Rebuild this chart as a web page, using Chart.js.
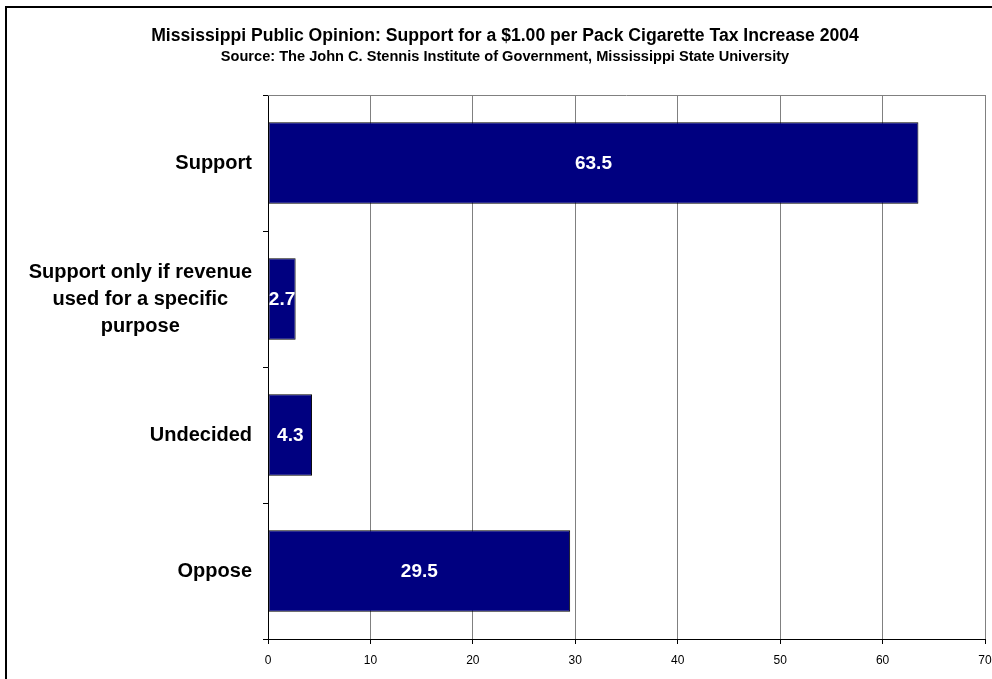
<!DOCTYPE html>
<html>
<head>
<meta charset="utf-8">
<script src="https://cdn.jsdelivr.net/npm/chart.js@4.4.0/dist/chart.umd.min.js"></script>
<style>
  html, body { margin: 0; padding: 0; background: #fff; }
  #wrap { width: 992px; height: 679px; position: relative; }
</style>
</head>
<body>
<div id="wrap"><canvas id="opinion-chart" width="992" height="679"></canvas></div>
<script>
const titleText = 'Mississippi Public Opinion: Support for a $1.00 per Pack Cigarette Tax Increase 2004';
const subtitleText = 'Source: The John C. Stennis Institute of Government, Mississippi State University';

const categories = [
    ['Support'],
    ['Support only if revenue', 'used for a specific', 'purpose'],
    ['Undecided'],
    ['Oppose']
];
const percentages = [63.5, 2.7, 4.3, 29.5];
const axisMin = 0;
const axisMax = 70;
const axisStep = 10;

const fontFamily = '"Liberation Sans", Arial, Helvetica, sans-serif';

// frame, titles, top border of the plot area
const decorPlugin = {
    id: 'decor',
    afterDraw(chart) {
        const ctx = chart.ctx;
        const area = chart.chartArea;
        ctx.save();
        ctx.strokeStyle = '#000';
        ctx.lineWidth = 2;
        ctx.strokeRect(6, 7, 1000, 700);

        ctx.strokeStyle = '#808080';
        ctx.lineWidth = 1;
        ctx.beginPath();
        ctx.moveTo(area.left, area.top + 0.5);
        ctx.lineTo(area.right, area.top + 0.5);
        ctx.stroke();

        ctx.fillStyle = '#000';
        ctx.textAlign = 'center';
        ctx.textBaseline = 'middle';
        ctx.font = 'bold 17.6px ' + fontFamily;
        ctx.fillText(titleText, 505, 36);
        ctx.font = 'bold 14.6px ' + fontFamily;
        ctx.fillText(subtitleText, 505, 57);
        ctx.restore();
    }
};

// category labels: multi-line ones are centred line by line
const categoryLabelPlugin = {
    id: 'categoryLabels',
    afterDraw(chart) {
        const ctx = chart.ctx;
        const yScale = chart.scales.y;
        const rightEdge = chart.chartArea.left - 16;
        const lineHeight = 27;
        ctx.save();
        ctx.fillStyle = '#000';
        ctx.font = 'bold 20px ' + fontFamily;
        ctx.textBaseline = 'middle';
        ctx.textAlign = 'center';
        categories.forEach((lines, i) => {
            const y = yScale.getPixelForValue(i);
            const widest = Math.max(...lines.map(l => ctx.measureText(l).width));
            const cx = rightEdge - widest / 2;
            const startY = y - (lines.length - 1) * lineHeight / 2;
            lines.forEach((line, j) => {
                ctx.fillText(line, cx, startY + j * lineHeight);
            });
        });
        ctx.restore();
    }
};

// white value labels centred inside each bar
const valueLabelPlugin = {
    id: 'valueLabels',
    afterDatasetsDraw(chart) {
        const ctx = chart.ctx;
        const meta = chart.getDatasetMeta(0);
        ctx.save();
        ctx.fillStyle = '#fff';
        ctx.font = 'bold 19px ' + fontFamily;
        ctx.textAlign = 'center';
        ctx.textBaseline = 'middle';
        meta.data.forEach((bar, i) => {
            const props = bar.getProps(['x', 'y', 'base'], true);
            ctx.fillText(percentages[i].toFixed(1), (props.x + props.base) / 2, props.y + 1);
        });
        ctx.restore();
    }
};

const ctx = document.getElementById('opinion-chart').getContext('2d');
new Chart(ctx, {
    type: 'bar',
    data: {
        labels: categories.map(l => l.join(' ')),
        datasets: [{
            label: 'Percent',
            data: percentages,
            backgroundColor: '#000080',
            borderColor: '#000',
            borderWidth: 1,
            borderSkipped: false,
            categoryPercentage: 1,
            barPercentage: 0.6
        }]
    },
    options: {
        indexAxis: 'y',
        responsive: false,
        animation: false,
        layout: {
            padding: { left: 25, right: 7, top: 95, bottom: 0 }
        },
        plugins: {
            legend: { display: false },
            title: { display: false },
            tooltip: { enabled: false }
        },
        scales: {
            x: {
                min: axisMin,
                max: axisMax,
                afterFit(scale) {
                    scale.height = 40;
                    scale.paddingLeft = 0;
                    scale.paddingRight = 0;
                },
                ticks: {
                    stepSize: axisStep,
                    color: '#000',
                    padding: 9,
                    maxRotation: 0,
                    font: { family: fontFamily, size: 12 }
                },
                grid: {
                    color: '#808080',
                    tickColor: '#000',
                    tickLength: 5,
                    lineWidth: 1
                },
                border: { color: '#000', width: 1 }
            },
            y: {
                offset: true,
                afterFit(scale) {
                    scale.width = 243;
                    scale.paddingTop = 0;
                    scale.paddingBottom = 0;
                },
                ticks: { display: false },
                grid: {
                    offset: true,
                    drawOnChartArea: false,
                    drawTicks: true,
                    tickLength: 5,
                    color: '#000'
                },
                border: { color: '#000', width: 1 }
            }
        }
    },
    plugins: [decorPlugin, categoryLabelPlugin, valueLabelPlugin]
});
</script>
</body>
</html>
